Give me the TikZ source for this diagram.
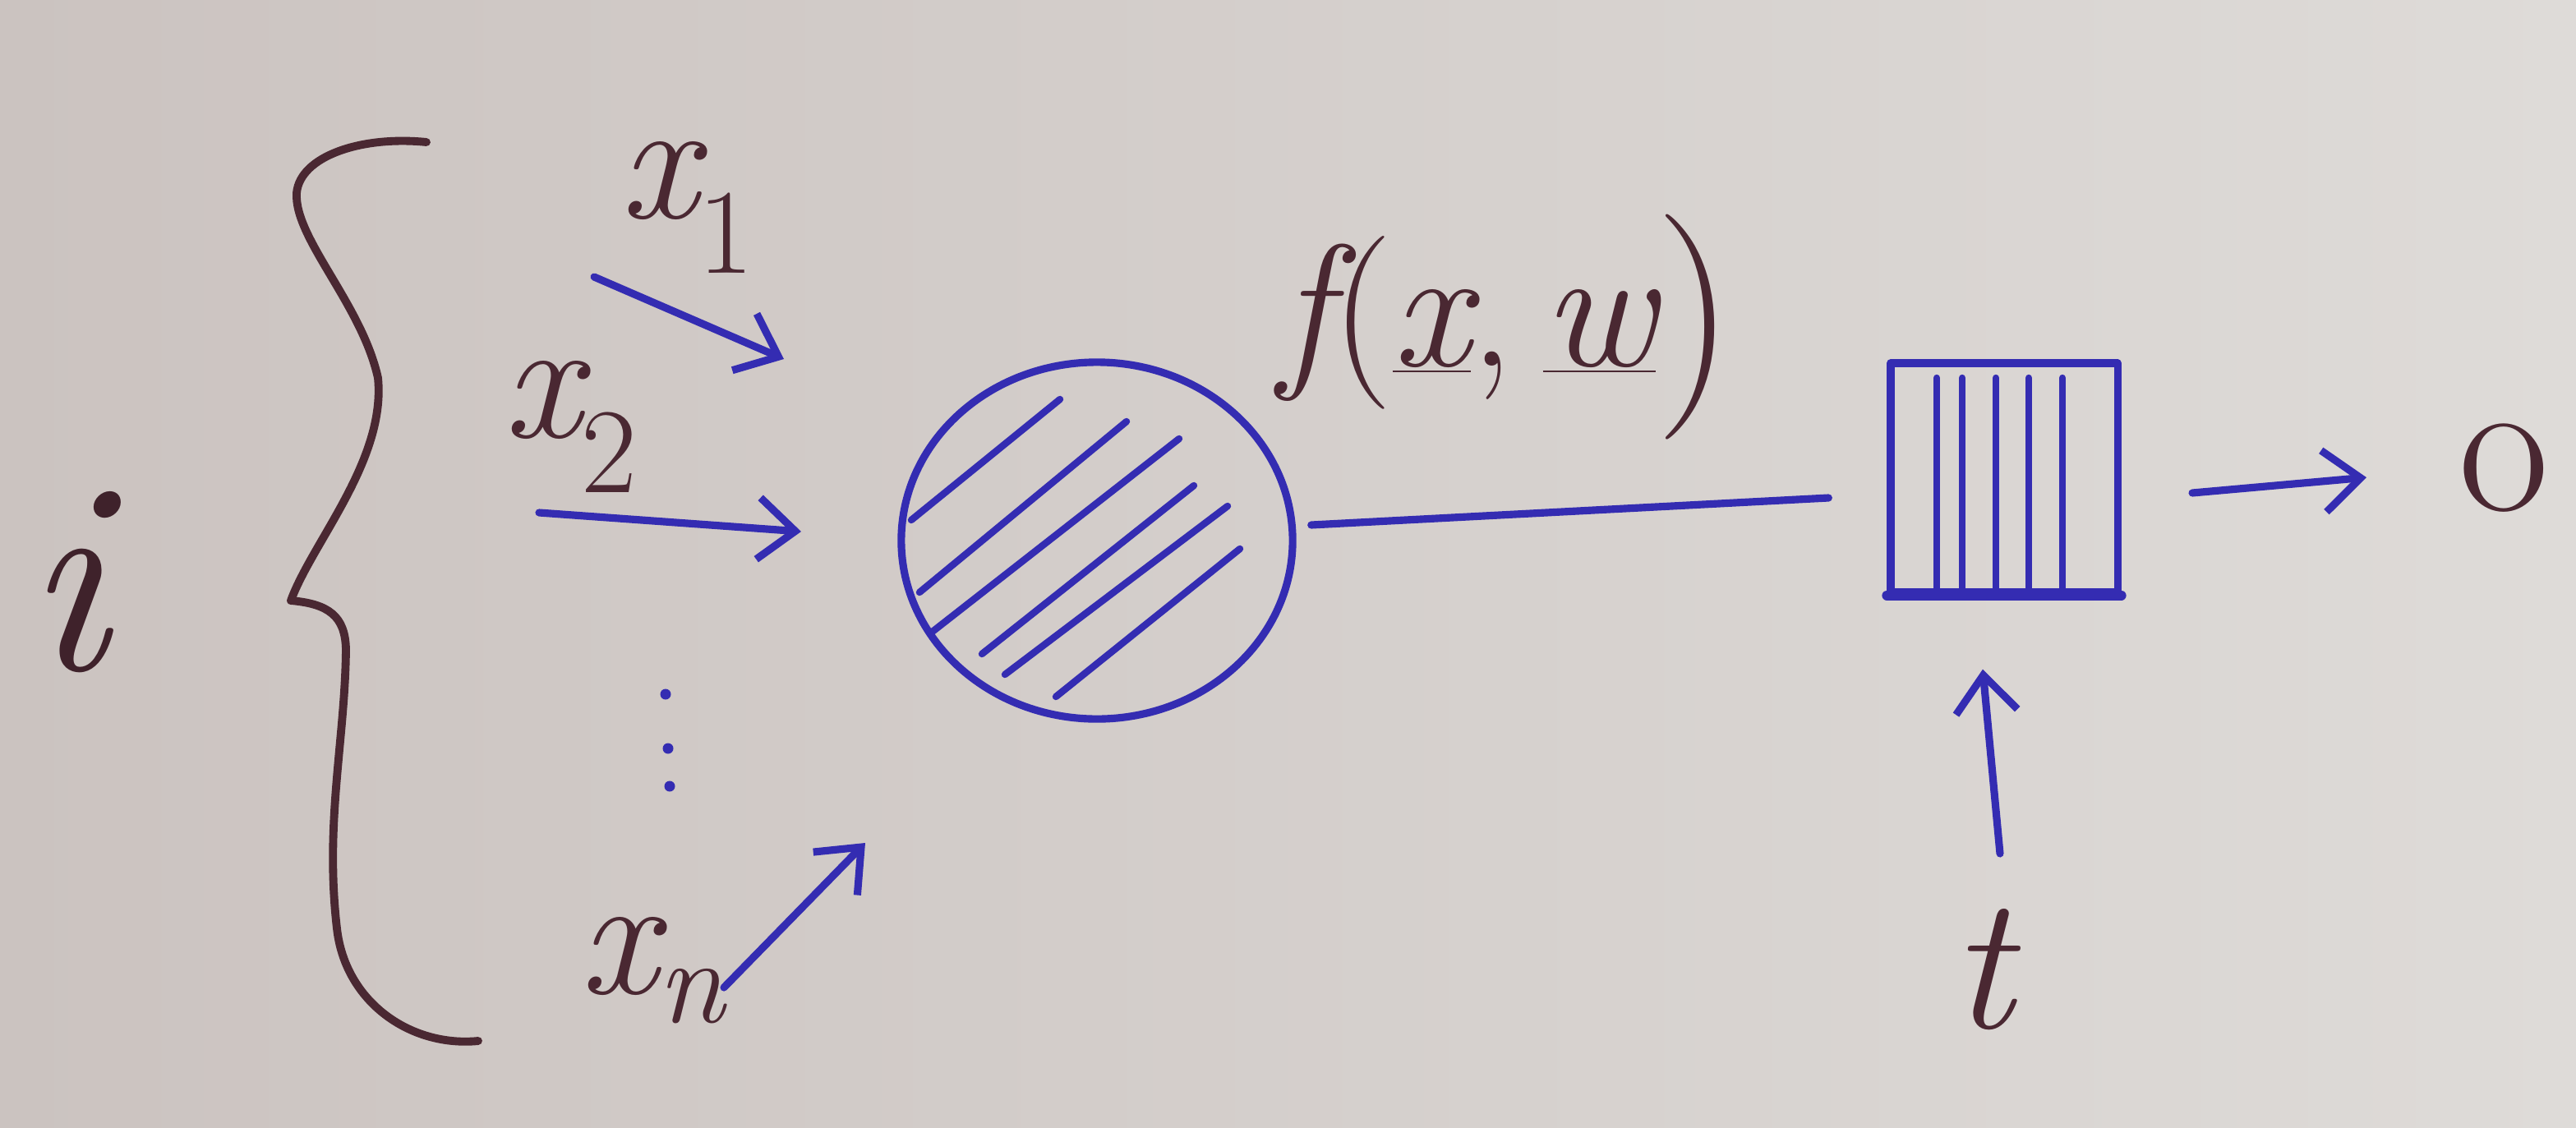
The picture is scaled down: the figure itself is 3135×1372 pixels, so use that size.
\documentclass[tikz,border=0pt]{standalone}
\usepackage{fontspec}
\usetikzlibrary{arrows.meta,calc,shapes.geometric}
\definecolor{paperA}{RGB}{203,195,192}
\definecolor{paperB}{RGB}{222,219,216}
\definecolor{ink}{RGB}{52,44,178}
\definecolor{brn}{RGB}{74,40,50}
\newcommand{\subup}[1]{\textsubscript{\upshape #1}}
\begin{document}
\begin{tikzpicture}[x=0.01cm,y=-0.01cm,
  blueink/.style={draw=ink, line width=2.6pt, line cap=round, line join=round},
  brownink/.style={draw=brn, line width=2.8pt, line cap=round, line join=round},
  arr/.style={blueink, -{Straight Barb[length=0.45cm,width=0.75cm,line width=2.6pt]}},
  lbl/.style={text=brn, inner sep=0pt, font=\fontsize{60}{60}\selectfont\itshape},
  hatch/.style={draw=ink, line width=2.4pt, line cap=round},
  inkdot/.style={circle, fill=ink, inner sep=0pt, minimum size=0.13cm}]
\useasboundingbox (0,0) rectangle (3135,1372);
\shade[left color=paperA, right color=paperB] (0,0) rectangle (3135,1372);

% left index and brace
\node[lbl, text=brn!85!black, font=\fontsize{95}{95}\selectfont\itshape, anchor=base west] (ilbl) at (30,815) {i};
\draw[brownink] (519,173) .. controls (440,165) and (365,190) .. (361,235)
  .. controls (358,290) and (440,370) .. (460,460)
  .. controls (470,560) and (380,660) .. (354,731)
  .. controls (400,735) and (420,750) .. (421,790)
  .. controls (420,900) and (395,1000) .. (410,1130)
  .. controls (420,1220) and (500,1275) .. (582,1267);

% inputs
\node[lbl, anchor=base west] (x1) at (754,265) {x\subup{1}};
\node[lbl, anchor=base west] (x2) at (612,532) {x\subup{2}};
\node[lbl, anchor=base west] (xn) at (705,1209) {x\textsubscript{n}};
\node[inkdot] (d1) at (810,845) {};
\node[inkdot] (d2) at (813,911) {};
\node[inkdot] (d3) at (815,957) {};

\coordinate (a1s) at (723,337);
\coordinate (a1e) at (954,437);
\coordinate (a2s) at (656,624);
\coordinate (a2e) at (975,647);
\coordinate (ans) at (881,1202);
\coordinate (ane) at (1053,1026);
\draw[arr] (a1s) -- (a1e);
\draw[arr] (a2s) -- (a2e);
\draw[arr] (ans) -- (ane);

% neuron
\node[ellipse, blueink, minimum width=4.76cm, minimum height=4.34cm, inner sep=0pt] (neuron) at (1335,658) {};
\draw[hatch] (1109,633) -- (1290,486);
\draw[hatch] (1119,721) -- (1371,513);
\draw[hatch] (1132,771) -- (1435,534);
\draw[hatch] (1195,796) -- (1453,591);
\draw[hatch] (1223,821) -- (1494,616);
\draw[hatch] (1285,848) -- (1509,668);

% function label
\node[lbl, anchor=base west] (flbl) at (1556,445) {f{\upshape(}\underline{x}{\upshape,}\,\underline{w}\raisebox{-0.1em}{\fontsize{78}{78}\selectfont\upshape)}};

% threshold box
\node[rectangle, blueink, minimum width=2.76cm, minimum height=2.78cm, inner sep=0pt] (thr) at (2439,581) {};
\draw[blueink, line width=3.4pt] (thr.south west) -- (thr.south east);
\foreach \xx in {2357,2388,2429,2469,2510} {
  \draw[hatch] (\xx,460) -- (\xx,718);
}

% connector neuron -> box
\draw[blueink] ($(neuron.east)+(18,-19)$) -- ($(thr.west)+(-71,25)$);

% output
\node[lbl, font=\fontsize{68}{68}\selectfont, anchor=base west] (olbl) at (2992,621) {o};
\coordinate (os) at (2668,600);
\draw[arr] (os) -- ($(olbl.west)+(-112,12)$);

% target
\node[lbl, font=\fontsize{66}{66}\selectfont\itshape] (tlbl) at (2412,1180) {t};
\coordinate (ts) at (2434,1039);
\draw[arr] (ts) -- ($(thr.south)+(-26,90)$);
\end{tikzpicture}
\end{document}
